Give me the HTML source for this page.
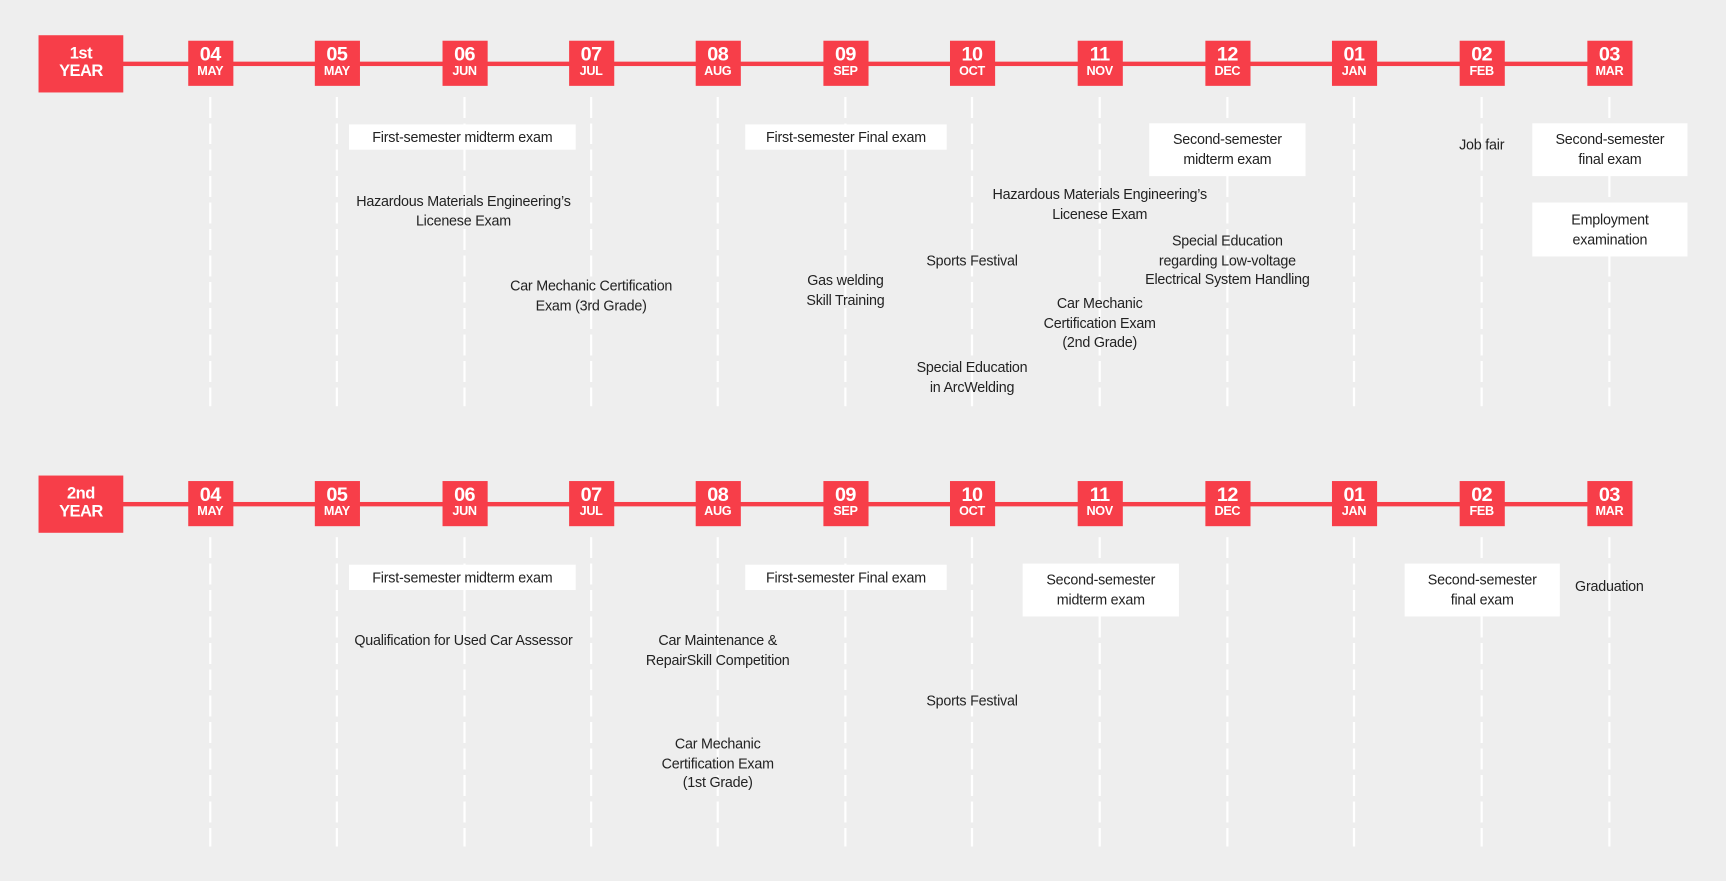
<!DOCTYPE html>
<html><head><meta charset="utf-8"><style>
html,body{margin:0;padding:0;background:#eeeeee;}
body{width:1726px;height:880px;overflow:hidden;position:relative;}
#s{position:absolute;left:0;top:0;width:1568px;height:800px;transform:scale(1.1008);transform-origin:0 0;font-family:"Liberation Sans",sans-serif;color:#222;}
.yr{position:absolute;left:35px;width:77px;height:52px;background:#f73e49;color:#fff;text-align:center;font-size:15px;line-height:16px;padding-top:9px;box-sizing:border-box;font-weight:bold;letter-spacing:-0.5px}
.ln{position:absolute;left:110px;width:1372px;height:4px;background:#f73e49}
.m{position:absolute;width:41px;height:41px;background:#f73e49;color:#fff;text-align:center;font-weight:bold;box-sizing:border-box;padding-top:3px}
.m b{display:block;font-size:18px;line-height:19px;letter-spacing:-0.5px}
.m i{display:block;font-style:normal;font-size:11.5px;line-height:13px;letter-spacing:-0.3px}
.d{position:absolute;width:2.4px;background:repeating-linear-gradient(to bottom,#fff 0,#fff 19px,transparent 19px,transparent 24px);}
.t{position:absolute;width:320px;text-align:center;font-size:13px;line-height:17.6px;white-space:nowrap;letter-spacing:-0.2px}
.b{position:absolute;background:#fff;font-size:13px;line-height:17.6px;text-align:center;display:flex;align-items:center;justify-content:center;letter-spacing:-0.2px}
</style></head><body><div id="s">
<div class="yr" style="top:32px">1st<br>YEAR</div>
<div class="ln" style="top:56px"></div>
<div class="yr" style="top:432px">2nd<br>YEAR</div>
<div class="ln" style="top:456px"></div>
<script>
var cx=[191,306,422,537,652,768,883,999,1115,1230,1346,1462];
var mm=[["04","MAY"],["05","MAY"],["06","JUN"],["07","JUL"],["08","AUG"],["09","SEP"],["10","OCT"],["11","NOV"],["12","DEC"],["01","JAN"],["02","FEB"],["03","MAR"]];
var h="";
[0,400].forEach(function(o){cx.forEach(function(x,i){
h+='<div class="d" style="left:'+(x-1.2)+'px;top:'+(88+o)+'px;height:'+281+'px"></div>';
h+='<div class="m" style="left:'+(x-20.5)+'px;top:'+(37+o)+'px"><b>'+mm[i][0]+'</b><i>'+mm[i][1]+'</i></div>';
});});
document.write(h);
</script>
<div class="b" style="left:317px;top:113px;width:206px;height:23px">First-semester midterm exam</div>
<div class="t" style="left:261px;top:174px">Hazardous Materials Engineering’s<br>Licenese Exam</div>
<div class="t" style="left:377px;top:251px">Car Mechanic Certification<br>Exam (3rd Grade)</div>
<div class="b" style="left:677px;top:113px;width:183px;height:23px">First-semester Final exam</div>
<div class="t" style="left:608px;top:246px">Gas welding<br>Skill Training</div>
<div class="t" style="left:723px;top:228px">Sports Festival</div>
<div class="t" style="left:723px;top:325px">Special Education<br>in ArcWelding</div>
<div class="t" style="left:839px;top:168px">Hazardous Materials Engineering’s<br>Licenese Exam</div>
<div class="t" style="left:839px;top:267px">Car Mechanic<br>Certification Exam<br>(2nd Grade)</div>
<div class="b" style="left:1044px;top:112px;width:142px;height:48px">Second-semester<br>midterm exam</div>
<div class="t" style="left:955px;top:210px">Special Education<br>regarding Low-voltage<br>Electrical System Handling</div>
<div class="t" style="left:1186px;top:123px">Job fair</div>
<div class="b" style="left:1392px;top:112px;width:141px;height:48px">Second-semester<br>final exam</div>
<div class="b" style="left:1392px;top:184px;width:141px;height:49px">Employment<br>examination</div>

<div class="b" style="left:317px;top:513px;width:206px;height:23px">First-semester midterm exam</div>
<div class="t" style="left:261px;top:573px">Qualification for Used Car Assessor</div>
<div class="t" style="left:492px;top:573px">Car Maintenance &amp;<br>RepairSkill Competition</div>
<div class="t" style="left:492px;top:667px">Car Mechanic<br>Certification Exam<br>(1st Grade)</div>
<div class="b" style="left:677px;top:513px;width:183px;height:23px">First-semester Final exam</div>
<div class="t" style="left:723px;top:628px">Sports Festival</div>
<div class="b" style="left:929px;top:512px;width:142px;height:48px">Second-semester<br>midterm exam</div>
<div class="b" style="left:1276px;top:512px;width:141px;height:48px">Second-semester<br>final exam</div>
<div class="t" style="left:1302px;top:524px">Graduation</div>
</div></body></html>
